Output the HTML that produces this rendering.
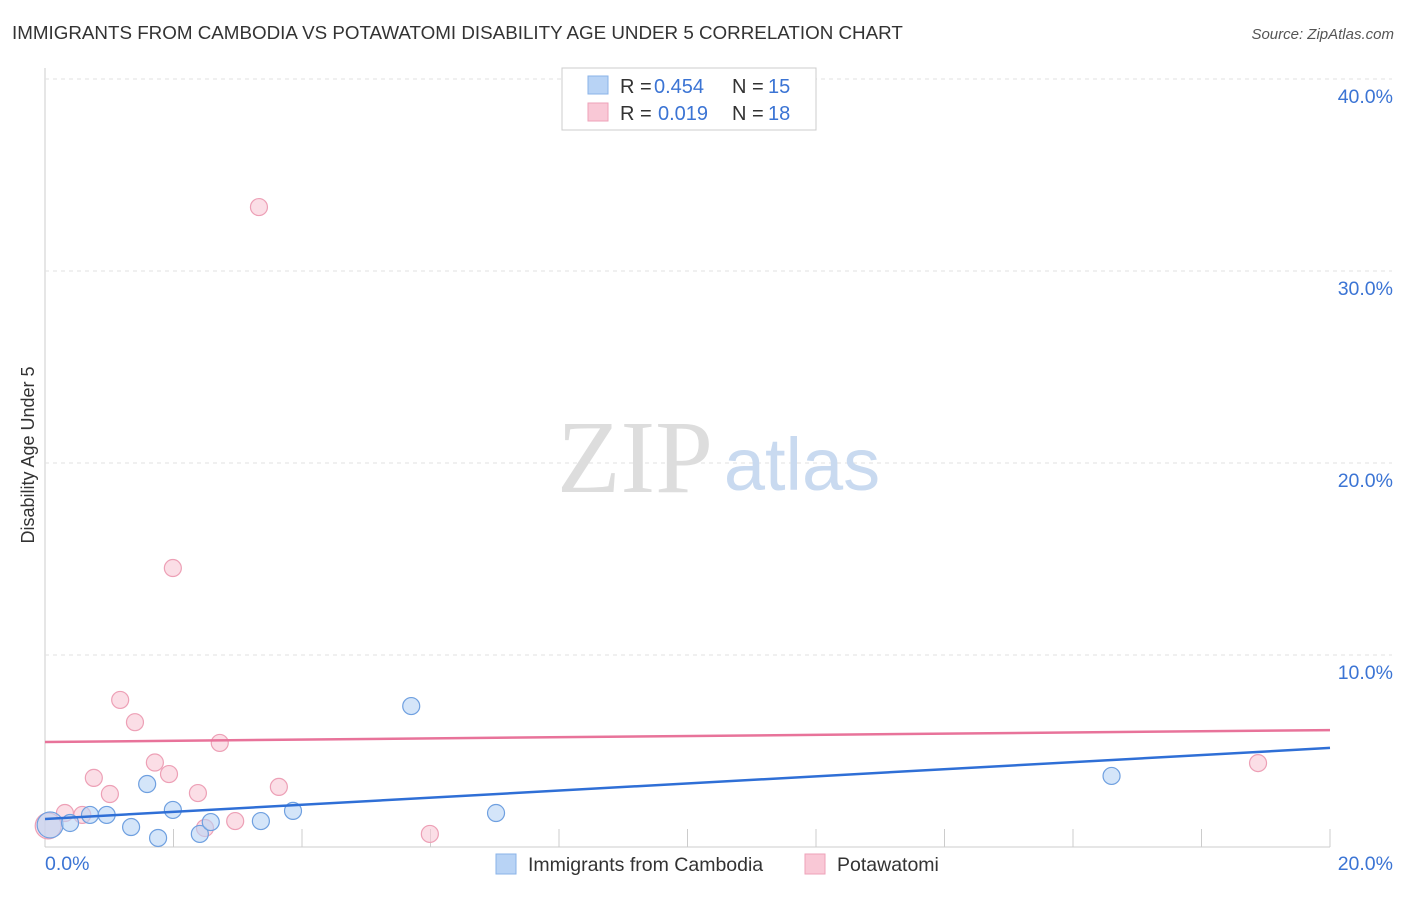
<!DOCTYPE html>
<html><head><meta charset="utf-8"><style>
body{margin:0;background:#fff;font-family:"Liberation Sans",sans-serif;}
</style></head><body>
<svg width="1406" height="892" xmlns="http://www.w3.org/2000/svg">
<text x="12" y="39" font-size="18.8" fill="#333">IMMIGRANTS FROM CAMBODIA VS POTAWATOMI DISABILITY AGE UNDER 5 CORRELATION CHART</text>
<text x="1394" y="39" font-size="15" fill="#555" text-anchor="end" font-style="italic">Source: ZipAtlas.com</text>
<g id="grid"></g>
<text x="635" y="492" font-size="104" fill="#ddd" font-family="Liberation Serif,serif" text-anchor="middle">ZIP</text>
<text x="802" y="490" font-size="74" fill="#c9daf0" text-anchor="middle">atlas</text>
<text transform="translate(34,455) rotate(-90)" font-size="18" fill="#333" text-anchor="middle">Disability Age Under 5</text>
<g id="marks"></g>
<g>
<rect x="562" y="68" width="254" height="62" fill="#fff" stroke="#ccc"/>
<rect x="588" y="76" width="20" height="18" fill="#b8d3f5" stroke="#8ab3e8"/>
<rect x="588" y="103" width="20" height="18" fill="#f9c8d6" stroke="#eea2b8"/>
<text x="620" y="93" font-size="20" fill="#333">R =</text>
<text x="654" y="93" font-size="20" fill="#3b74d4">0.454</text>
<text x="732" y="93" font-size="20" fill="#333">N =</text>
<text x="768" y="93" font-size="20" fill="#3b74d4">15</text>
<text x="620" y="120" font-size="20" fill="#333">R =</text>
<text x="658" y="120" font-size="20" fill="#3b74d4">0.019</text>
<text x="732" y="120" font-size="20" fill="#333">N =</text>
<text x="768" y="120" font-size="20" fill="#3b74d4">18</text>
</g>
<g>
<rect x="496" y="854" width="20" height="20" fill="#b8d3f5" stroke="#8ab3e8"/>
<text x="528" y="871" font-size="19.5" fill="#333">Immigrants from Cambodia</text>
<rect x="805" y="854" width="20" height="20" fill="#f9c8d6" stroke="#eea2b8"/>
<text x="837" y="871" font-size="19.5" fill="#333">Potawatomi</text>
</g>
</svg>
<script>
const xTicks=[0,20];
const yTicks=[10,20,30,40];
const blueX=[0.08,0.39,0.7,0.96,1.34,1.59,1.76,1.99,2.41,2.58,3.36,3.86,5.7,7.02,16.6];
const blueY=[1.15,1.25,1.67,1.67,1.04,3.28,0.47,1.93,0.68,1.30,1.35,1.88,7.34,1.77,3.7];
const pinkX=[0.05,0.31,0.58,0.76,1.01,1.17,1.4,1.71,1.93,1.99,2.38,2.49,2.72,2.96,3.33,3.64,5.99,18.88];
const pinkY=[1.1,1.77,1.67,3.6,2.76,7.66,6.5,4.4,3.8,14.53,2.81,0.99,5.42,1.35,33.33,3.13,0.68,4.37];
const blueTrend=[1.46,5.16];
const pinkTrend=[5.47,6.09];
const NS="http://www.w3.org/2000/svg";
const X=v=>45+v*64.25, Y=v=>847-v*19.2;
function mk(t,a,p){const e=document.createElementNS(NS,t);for(const k in a)e.setAttribute(k,a[k]);p.appendChild(e);return e;}
const g=document.getElementById('grid'), m=document.getElementById('marks');
mk('line',{x1:45,y1:68,x2:45,y2:847,stroke:'#ccc'},g);
mk('line',{x1:45,y1:847,x2:1330,y2:847,stroke:'#ccc'},g);
for(let i=1;i<=10;i++){const l=mk('line',{x1:X(i*2),y1:829,x2:X(i*2),y2:847,stroke:'#ccc'},g);

}
yTicks.forEach(v=>{const l=mk('line',{x1:45,y1:Y(v),x2:1392,y2:Y(v),stroke:'#e2e2e2','stroke-dasharray':'4,4'},g);


const t=mk('text',{x:1393,y:Y(v)+24,'font-size':19.5,fill:'#3b74d4','text-anchor':'end'},g);t.textContent=v.toFixed(1)+'%';

});
xTicks.forEach((v,i)=>{const t=mk('text',{x:i?1393:45,y:870,'font-size':19.5,fill:'#3b74d4','text-anchor':i?'end':'start'},g);t.textContent=v.toFixed(1)+'%';

});
function pts(xs,ys,f,s,name){xs.forEach((x,i)=>{const c=mk('circle',{cx:X(x),cy:Y(ys[i]),r:i==0?13:8.5,fill:f,'fill-opacity':0.6,stroke:s,'stroke-width':1.2},m);

});}
pts(pinkX,pinkY,'#f9c8d6','#eda0b6','potawatomi-point');
pts(blueX,blueY,'#b8d3f5','#6fa0e0','cambodia-point');
const pl=mk('line',{x1:X(0),y1:Y(pinkTrend[0]),x2:X(20),y2:Y(pinkTrend[1]),stroke:'#e8739a','stroke-width':2.5},m);


const bl=mk('line',{x1:X(0),y1:Y(blueTrend[0]),x2:X(20),y2:Y(blueTrend[1]),stroke:'#2f6fd6','stroke-width':2.5},m);


</script>
</body></html>
